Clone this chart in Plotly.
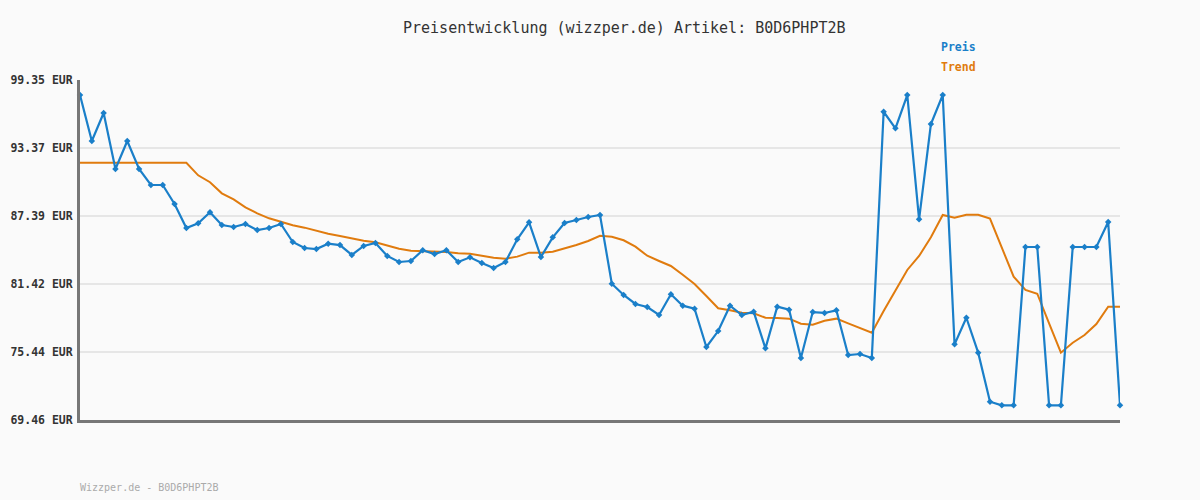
import plotly.graph_objects as go

preis = [98.03, 93.99, 96.45, 91.53, 93.99, 91.53, 90.12, 90.12, 88.45, 86.34,
         86.75, 87.72, 86.60, 86.43, 86.69, 86.16, 86.34, 86.69, 85.11, 84.58,
         84.49, 84.96, 84.84, 83.97, 84.76, 85.02, 83.88, 83.35, 83.44, 84.38,
         84.05, 84.38, 83.35, 83.76, 83.26, 82.82, 83.35, 85.35, 86.84, 83.79,
         85.52, 86.78, 87.04, 87.31, 87.48, 81.44, 80.45, 79.66, 79.39, 78.69,
         80.51, 79.51, 79.24, 75.88, 77.28, 79.51, 78.69, 78.98, 75.76, 79.42,
         79.16, 74.91, 78.95, 78.87, 79.10, 75.17, 75.26, 74.91, 96.56, 95.10,
         98.03, 87.10, 95.48, 98.03, 76.11, 78.45, 75.38, 71.07, 70.75, 70.75,
         84.67, 84.67, 70.75, 70.75, 84.67, 84.67, 84.67, 86.87, 70.75]

trend = [92.08, 92.08, 92.08, 92.08, 92.08, 92.08, 92.08, 92.08, 92.08, 92.08,
         90.97, 90.36, 89.39, 88.86, 88.16, 87.63, 87.19, 86.89, 86.58, 86.37,
         86.10, 85.84, 85.64, 85.40, 85.22, 85.08, 84.82, 84.52, 84.34, 84.32,
         84.25, 84.23, 84.11, 84.08, 83.90, 83.73, 83.64, 83.82, 84.17, 84.17,
         84.25, 84.52, 84.84, 85.20, 85.66, 85.57, 85.26, 84.70, 83.90, 83.44,
         83.00, 82.23, 81.42, 80.36, 79.28, 79.10, 78.89, 78.84, 78.45, 78.43,
         78.37, 77.93, 77.84, 78.19, 78.37, 77.96, 77.57, 77.14, 79.04, 80.80,
         82.65, 83.88, 85.52, 87.48, 87.24, 87.51, 87.51, 87.16, 84.55, 82.06,
         80.89, 80.56, 77.96, 75.38, 76.25, 76.93, 77.90, 79.42, 79.42]

tick_vals = [69.46, 75.44, 81.42, 87.39, 93.37, 99.35]
tick_text = ["69.46 EUR", "75.44 EUR", "81.42 EUR", "87.39 EUR", "93.37 EUR", "99.35 EUR"]

title_text = "Preisentwicklung (wizzper.de) Artikel: B0D6PHPT2B"
footer_text = "Wizzper.de - B0D6PHPT2B"

BLUE = "#1a7fc9"
ORANGE = "#e07b0e"
MONO = "DejaVu Sans Mono"

x = list(range(len(preis)))

fig = go.Figure()
fig.add_trace(go.Scatter(x=x, y=trend, mode="lines", name="Trend",
                         line=dict(color=ORANGE, width=2), cliponaxis=False))
fig.add_trace(go.Scatter(x=x, y=preis, mode="lines+markers", name="Preis",
                         line=dict(color=BLUE, width=2.2),
                         marker=dict(symbol="diamond", size=5, color=BLUE),
                         cliponaxis=False))

fig.update_layout(
    width=1200, height=500,
    margin=dict(l=80, r=80, t=80, b=80),
    paper_bgcolor="#fafafa", plot_bgcolor="#fafafa",
    showlegend=False,
    font=dict(family=MONO, color="#333333"),
    xaxis=dict(range=[0, len(preis) - 1], showgrid=False, showticklabels=False,
               zeroline=False, showline=True, linecolor="#777777", linewidth=3,
               ticks="", automargin=False),
    yaxis=dict(range=[tick_vals[0], tick_vals[-1]], tickvals=tick_vals,
               ticktext=tick_text, showgrid=True, gridcolor="#e6e6e6",
               gridwidth=2, zeroline=False, showline=True, linecolor="#777777",
               linewidth=3, ticks="", ticklabelstandoff=2, automargin=False,
               tickfont=dict(family=MONO, size=11.5, color="#333333", weight="bold")),
    annotations=[
        dict(text=title_text, x=624, y=28, xref="paper", yref="paper",
             showarrow=False, font=dict(family=MONO, size=15, color="#333333")),
        dict(text="<b>Preis</b>", x=939, y=47, xanchor="left", showarrow=False,
             font=dict(family=MONO, size=11.5, color=BLUE)),
        dict(text="<b>Trend</b>", x=939, y=67, xanchor="left", showarrow=False,
             font=dict(family=MONO, size=11.5, color=ORANGE)),
        dict(text=footer_text, x=78, y=487, xanchor="left", showarrow=False,
             font=dict(family=MONO, size=10, color="#aaaaaa")),
    ],
)

# convert pixel positions of annotations to paper coords
for a in fig.layout.annotations:
    a.xref = "paper"; a.yref = "paper"
    a.x = (a.x - 80) / 1040.0
    a.y = 1 - (a.y - 80) / 340.0
    a.yanchor = "middle"

fig.write_html("out.html")
